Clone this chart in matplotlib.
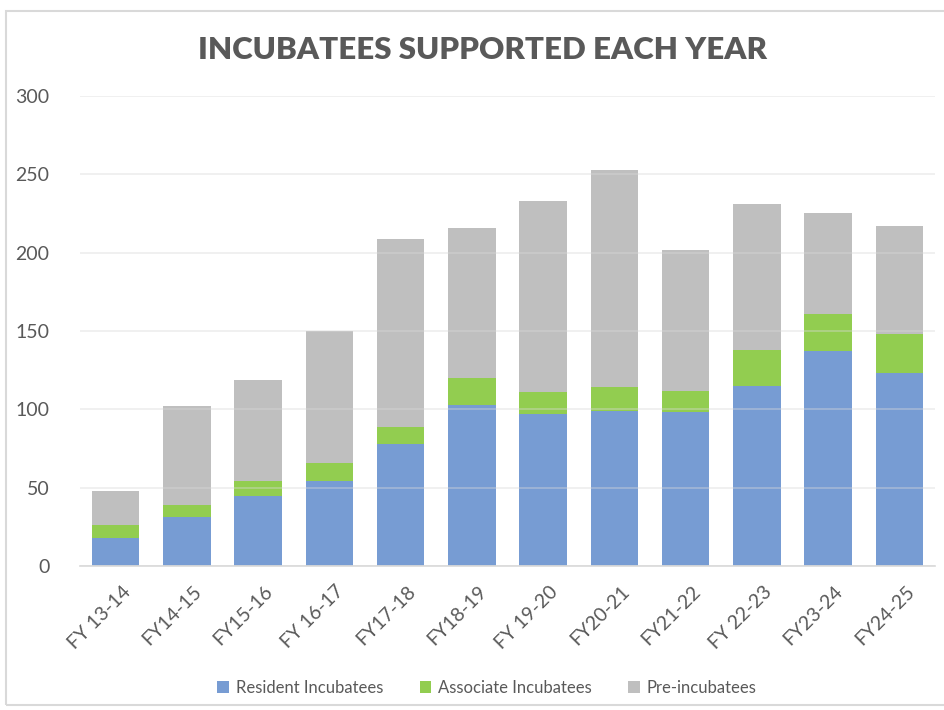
import numpy as np
import matplotlib.pyplot as plt
import matplotlib.transforms as mtransforms
from matplotlib.patches import Rectangle

# datos
years = ["FY 13-14", "FY14-15", "FY15-16", "FY 16-17", "FY17-18", "FY18-19",
         "FY 19-20", "FY20-21", "FY21-22", "FY 22-23", "FY23-24", "FY24-25"]
resident = [18, 31, 45, 54, 78, 103, 97, 99, 98, 115, 137, 123]
associate = [8, 8, 9, 12, 11, 17, 14, 15, 14, 23, 24, 25]
pre_inc = [22, 63, 65, 84, 120, 96, 122, 139, 90, 93, 64, 69]

col_res = "#779CD3"
col_ass = "#92CD50"
col_pre = "#BFBFBF"
txt = "#595959"

plt.rcParams['font.family'] = ['Lato', 'DejaVu Sans']

fig = plt.figure(figsize=(9.44, 7.10), dpi=100)
fig.patches.append(Rectangle((6/944, 1 - 705/710), 1.0, (705-11)/710,
                             transform=fig.transFigure, fill=False,
                             edgecolor="#D9D9D9", linewidth=1.5))
ax = fig.add_axes([80/944, 1 - 566/710, 855/944, (566-96)/710])

x = np.arange(len(years))
r = np.array(resident)
a = np.array(associate)
p = np.array(pre_inc)
ax.bar(x, r, width=0.67, color=col_res, label="Resident Incubatees", zorder=2)
ax.bar(x, a, width=0.67, bottom=r, color=col_ass, label="Associate Incubatees", zorder=2)
ax.bar(x, p, width=0.67, bottom=r + a, color=col_pre, label="Pre-incubatees", zorder=2)

ax.set_xlim(-0.5, len(years) - 0.5)
ax.set_ylim(0, 300)
ax.set_yticks(range(0, 301, 50))
ax.yaxis.grid(True, color="#D9D9D9", linewidth=1.2, zorder=3, alpha=0.45)
ax.set_axisbelow(False)
for s in ["top", "right", "left"]:
    ax.spines[s].set_visible(False)
ax.spines["bottom"].set_color("#D9D9D9")
ax.spines["bottom"].set_linewidth(1.2)
ax.tick_params(axis="both", length=0, colors=txt, labelsize=14)
ax.tick_params(axis="y", pad=22)
ax.tick_params(axis="x", pad=12)
ax.set_xticks(x)
ax.set_xticklabels(years, rotation=45, ha="right", rotation_mode="anchor")
off = mtransforms.ScaledTranslation(6/100, 0, fig.dpi_scale_trans)
for lbl in ax.get_xticklabels():
    lbl.set_transform(lbl.get_transform() + off)

fig.text(483/944, 1 - 50/710, "INCUBATEES SUPPORTED EACH YEAR", ha="center",
         va="center", fontsize=22.5, fontweight="heavy", color=txt)

fig.legend(loc="center", bbox_to_anchor=(487/944, 1 - 688/710), ncol=3,
           frameon=False, fontsize=12, labelcolor=txt, handlelength=0.7,
           handleheight=0.7, columnspacing=2.2, handletextpad=0.4)

fig.savefig("out.png", dpi=100)
